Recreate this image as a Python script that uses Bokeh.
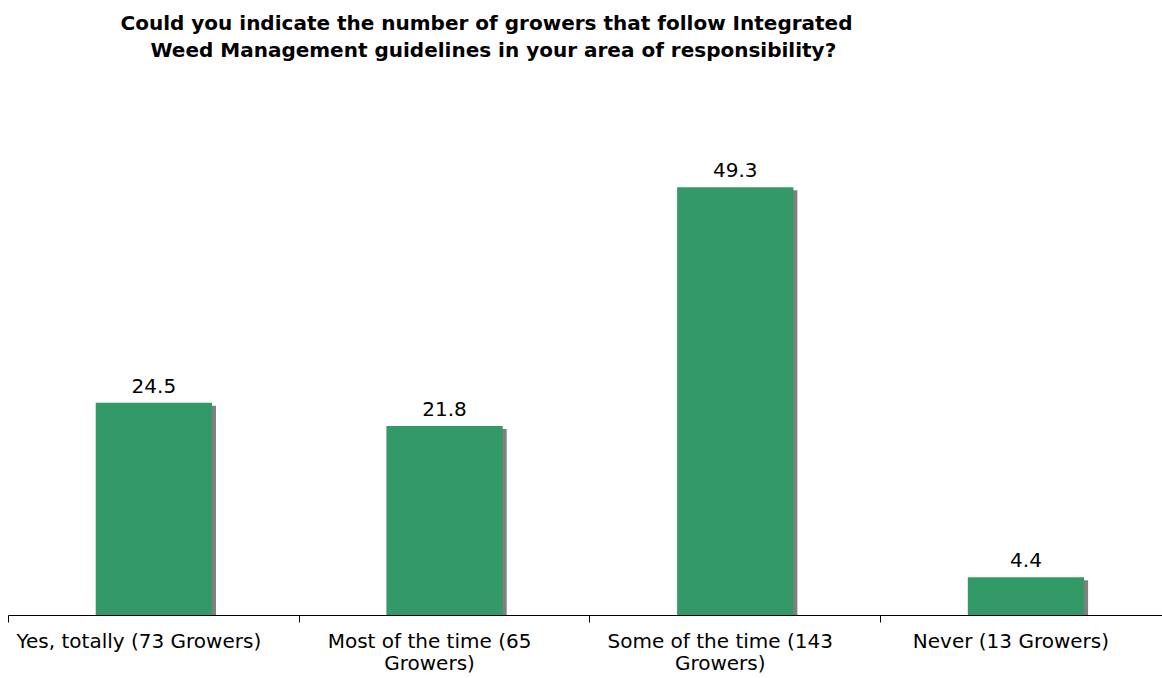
from bokeh.plotting import figure
from bokeh.models import Range1d, FixedTicker, Title, LinearAxis
from bokeh.core.properties import value
from bokeh.embed import file_html
from bokeh.resources import INLINE

categories = ["Yes, totally (73 Growers)", "Most of the time (65 Growers)",
              "Some of the time (143 Growers)", "Never (13 Growers)"]
tick_labels = ["Yes, totally (73 Growers)", "Most of the time (65\nGrowers)",
               "Some of the time (143\nGrowers)", "Never (13 Growers)"]
values = [24.5, 21.8, 49.3, 4.4]
value_labels = ["24.5", "21.8", "49.3", "4.4"]

FONT = "DejaVu Sans"
W, H = 1162, 678
LEFT_PX = 8             # pixel where first category starts
CAT_PX = 290.7          # pixel width of one category
PX_PER_UNIT = 8.72      # vertical scale
LABEL_SHIFT_PX = -15    # category labels sit slightly left of centre
TOP, BOTTOM = 70, 61

xs = [i + 0.5 for i in range(len(categories))]
label_xs = [x + LABEL_SHIFT_PX / CAT_PX for x in xs]
frame_h = H - BOTTOM - TOP

p = figure(width=W, height=H, output_backend="svg", toolbar_location=None,
           x_range=Range1d(-LEFT_PX / CAT_PX, (W - LEFT_PX) / CAT_PX),
           y_range=Range1d(0, frame_h / PX_PER_UNIT),
           x_axis_type=None, y_axis_type=None,
           min_border_left=0, min_border_right=0, min_border_top=TOP, min_border_bottom=BOTTOM)
p.grid.visible = False
p.outline_line_color = None
p.background_fill_color = "white"
p.border_fill_color = "white"

# shadow then bars
dx = 4 / CAT_PX
dy = 3 / PX_PER_UNIT
p.vbar(x=[x + dx for x in xs], top=[v - dy for v in values], bottom=0, width=0.4,
       fill_color="#808080", line_color=None)
p.vbar(x=xs, top=values, bottom=0, width=0.4, fill_color="#339966", line_color=None)

p.text(x=xs, y=values, text=value_labels, text_align="center", text_baseline="bottom",
       y_offset=-10, text_font=value(FONT), text_font_size="20px", text_color="#000000")

ax = LinearAxis(ticker=FixedTicker(ticks=label_xs, minor_ticks=[0, 1, 2, 3, 4]),
                bounds=(0, (W - LEFT_PX) / CAT_PX))
ax.major_label_overrides = {x: lab for x, lab in zip(label_xs, tick_labels)}
ax.major_tick_line_color = None
ax.major_tick_in = 0
ax.major_tick_out = 0
ax.minor_tick_in = 0
ax.minor_tick_out = 7
ax.minor_tick_line_color = "#000000"
ax.axis_line_color = "#000000"
ax.axis_line_width = 1
ax.major_label_standoff = 6
ax.major_label_text_font = FONT
ax.major_label_text_font_size = "20px"
ax.major_label_text_line_height = 0.95
ax.major_label_text_color = "#000000"
p.add_layout(ax, "below")

t2 = Title(text="Weed Management guidelines in your area of responsibility?", align="left",
           offset=150, standoff=17, text_font=FONT, text_font_size="20px",
           text_font_style="bold", text_color="#000000")
t1 = Title(text="Could you indicate the number of growers that follow Integrated", align="left",
           offset=120, standoff=-14, text_font=FONT, text_font_size="20px",
           text_font_style="bold", text_color="#000000")
p.add_layout(t2, "above")
p.add_layout(t1, "above")

open("out.html", "w").write(file_html(p, INLINE))
